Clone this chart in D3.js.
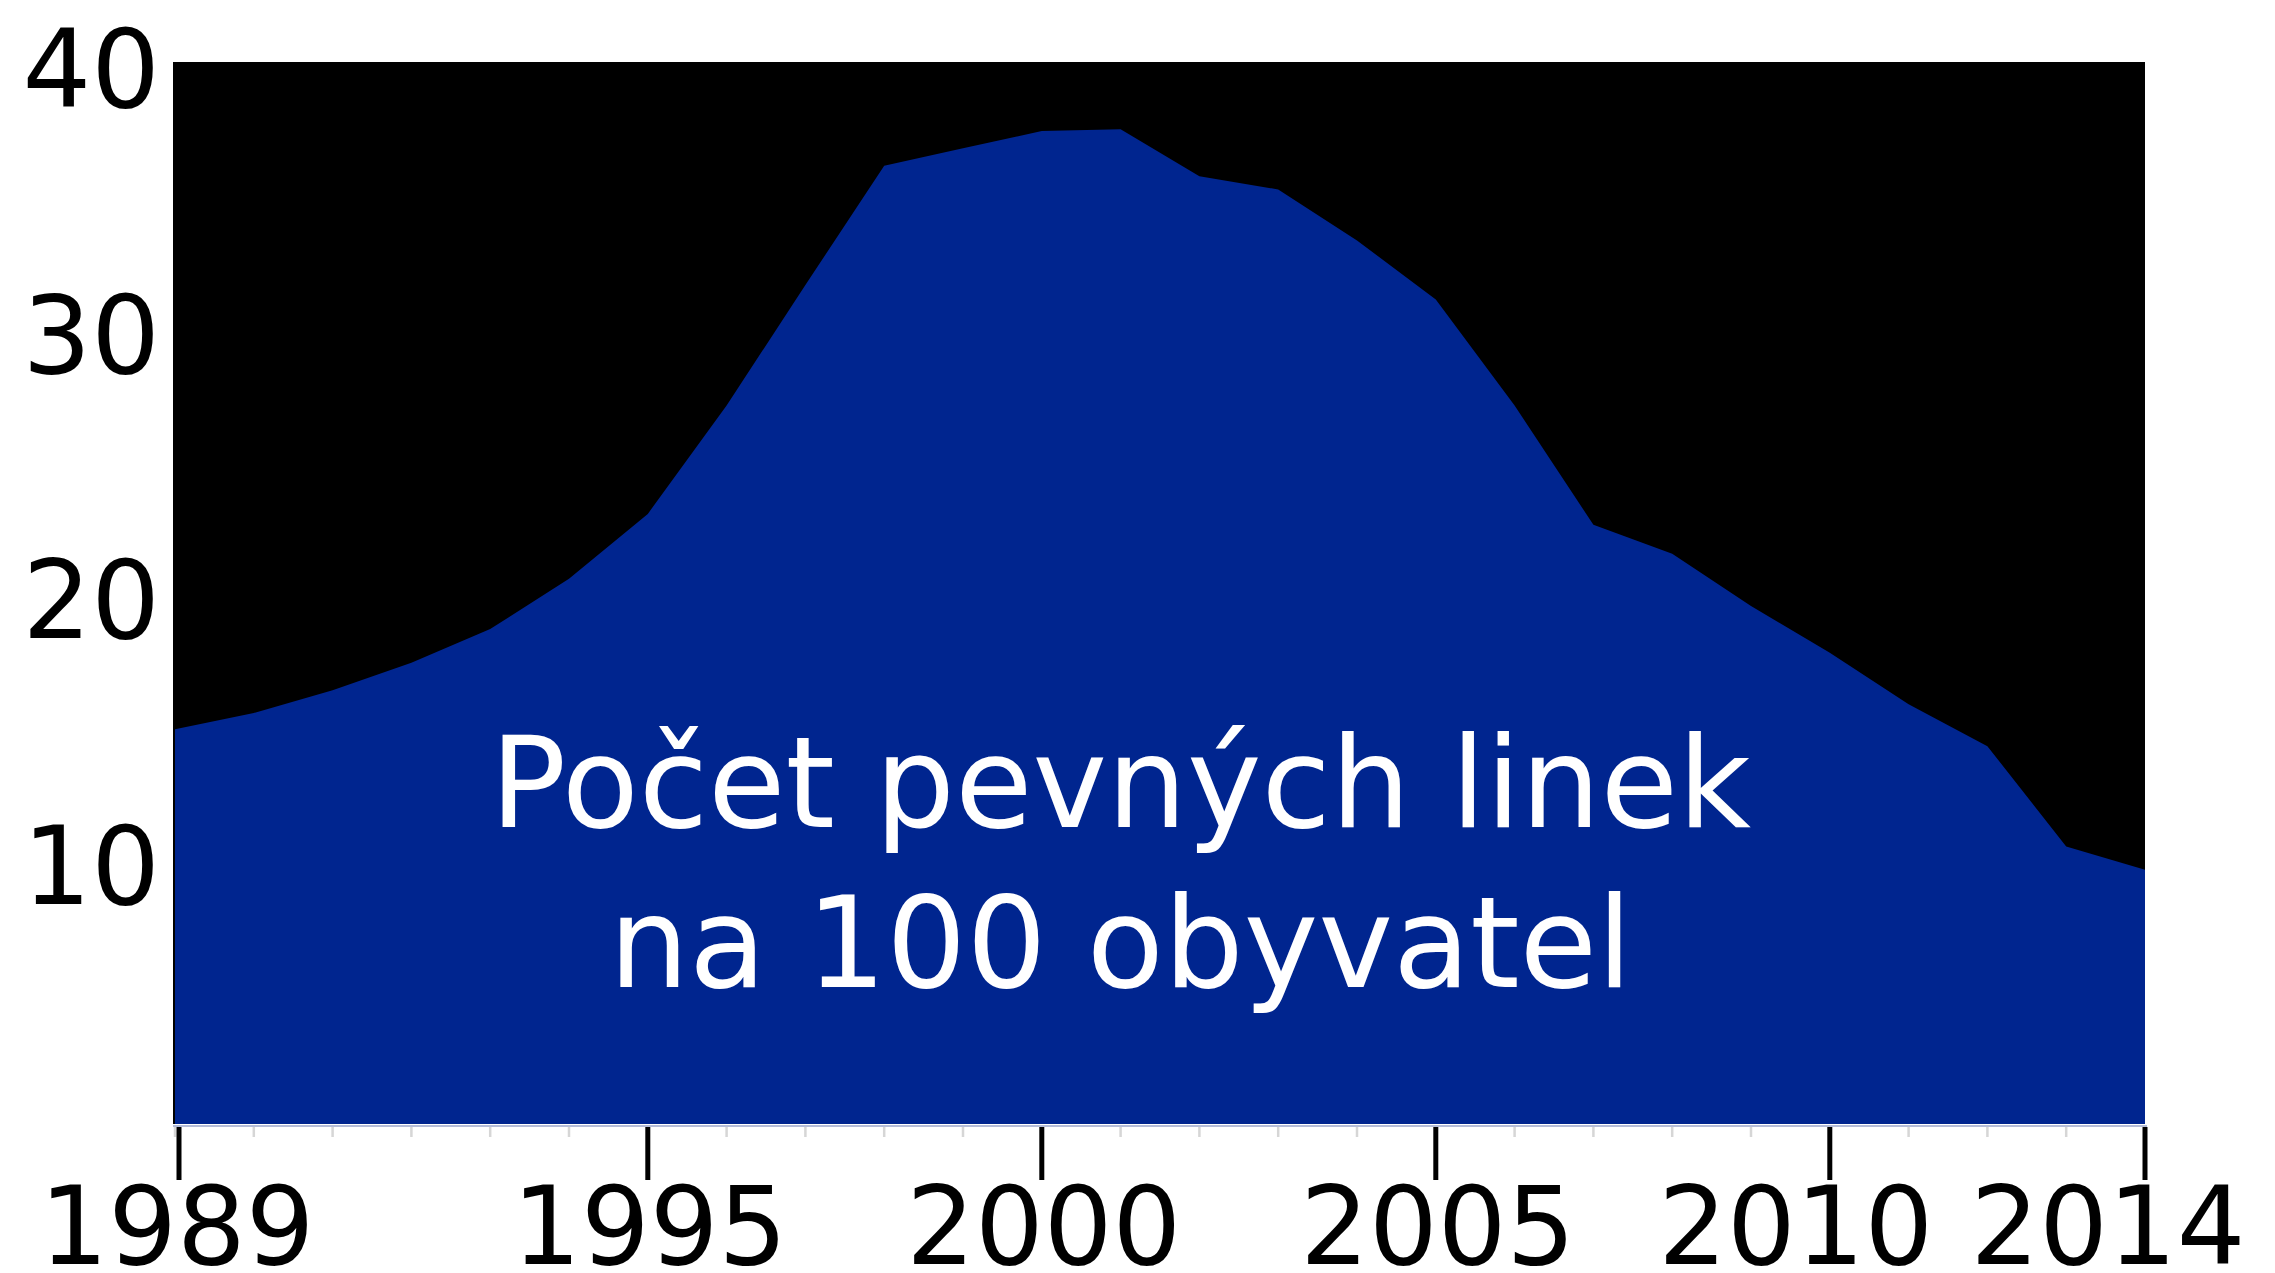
<!DOCTYPE html>
<html>
<head>
<meta charset="utf-8">
<script src="https://cdn.jsdelivr.net/npm/d3@7"></script>
<style>
  html, body { margin: 0; padding: 0; background: #fff; }
  svg { display: block; font-family: "DejaVu Sans", Verdana, sans-serif; }
</style>
</head>
<body>
<svg id="chart"></svg>
<script>
// fixed lines per 100 inhabitants, Czech Republic
const years = d3.range(1989, 2015);
const lines = [14.87, 15.48, 16.34, 17.37, 18.64, 20.54, 22.98, 27.06, 31.6, 36.09,
               36.75, 37.4, 37.47, 35.7, 35.2, 33.28, 31.05, 27.06, 22.57, 21.48,
               19.51, 17.75, 15.81, 14.23, 10.45, 9.58];
const xLabels = [1989, 1995, 2000, 2005, 2010, 2014];
const yLabels = [10, 20, 30, 40];
const title = ["Počet pevných linek", "na 100 obyvatel"];

const width = 2275, height = 1273;
const plot = { left: 173, right: 2145, top: 62, bottom: 1124 };

const svg = d3.select("#chart")
    .attr("width", width)
    .attr("height", height);

const x = d3.scaleLinear().domain([1989, 2014]).range([plot.left + 2, plot.right]);
const y = d3.scaleLinear().domain([0, 40]).range([plot.bottom, plot.top]);

// black plot background
svg.append("rect")
    .attr("x", plot.left)
    .attr("y", plot.top)
    .attr("width", plot.right - plot.left)
    .attr("height", plot.bottom - plot.top)
    .attr("fill", "#000");

// the area
const area = d3.area()
    .x((d, i) => x(years[i]))
    .y0(y(0))
    .y1(d => y(d));

svg.append("path")
    .datum(lines)
    .attr("d", area)
    .attr("fill", "#00258f");

// base line
svg.append("line")
    .attr("x1", plot.left).attr("x2", plot.right + 2)
    .attr("y1", plot.bottom + 2).attr("y2", plot.bottom + 2)
    .attr("stroke", "#b4bcd8")
    .attr("stroke-width", 2);

// minor ticks every year
svg.selectAll(".minor")
    .data(years)
    .enter()
    .append("line")
    .attr("class", "minor")
    .attr("x1", d => x(d)).attr("x2", d => x(d))
    .attr("y1", plot.bottom + 3).attr("y2", plot.bottom + 13)
    .attr("stroke", "#d6d6d6")
    .attr("stroke-width", 2.5);

// major ticks
svg.selectAll(".major")
    .data(xLabels)
    .enter()
    .append("line")
    .attr("class", "major")
    .attr("x1", d => Math.max(x(d), plot.left + 6)).attr("x2", d => Math.max(x(d), plot.left + 6))
    .attr("y1", plot.bottom + 3).attr("y2", plot.bottom + 56)
    .attr("stroke", "#000")
    .attr("stroke-width", 5);

// x labels (the last two sit a bit to the left in the original)
const shift = { 2010: -34, 2014: -37 };
svg.selectAll(".xlab")
    .data(xLabels)
    .enter()
    .append("text")
    .attr("class", "xlab")
    .attr("x", d => x(d) + (shift[d] || 2))
    .attr("y", 1264)
    .attr("text-anchor", "middle")
    .attr("font-size", 108)
    .attr("fill", "#000")
    .text(d => d);

// y labels
svg.selectAll(".ylab")
    .data(yLabels)
    .enter()
    .append("text")
    .attr("class", "ylab")
    .attr("x", 160)
    .attr("y", d => y(d) + 45)
    .attr("text-anchor", "end")
    .attr("font-size", 108)
    .attr("fill", "#000")
    .text(d => d);

// caption inside the area
svg.selectAll(".title")
    .data(title)
    .enter()
    .append("text")
    .attr("class", "title")
    .attr("x", x(2001))
    .attr("y", (d, i) => 827 + i * 160)
    .attr("text-anchor", "middle")
    .attr("font-size", 126)
    .attr("fill", "#fff")
    .text(d => d);
</script>
</body>
</html>
